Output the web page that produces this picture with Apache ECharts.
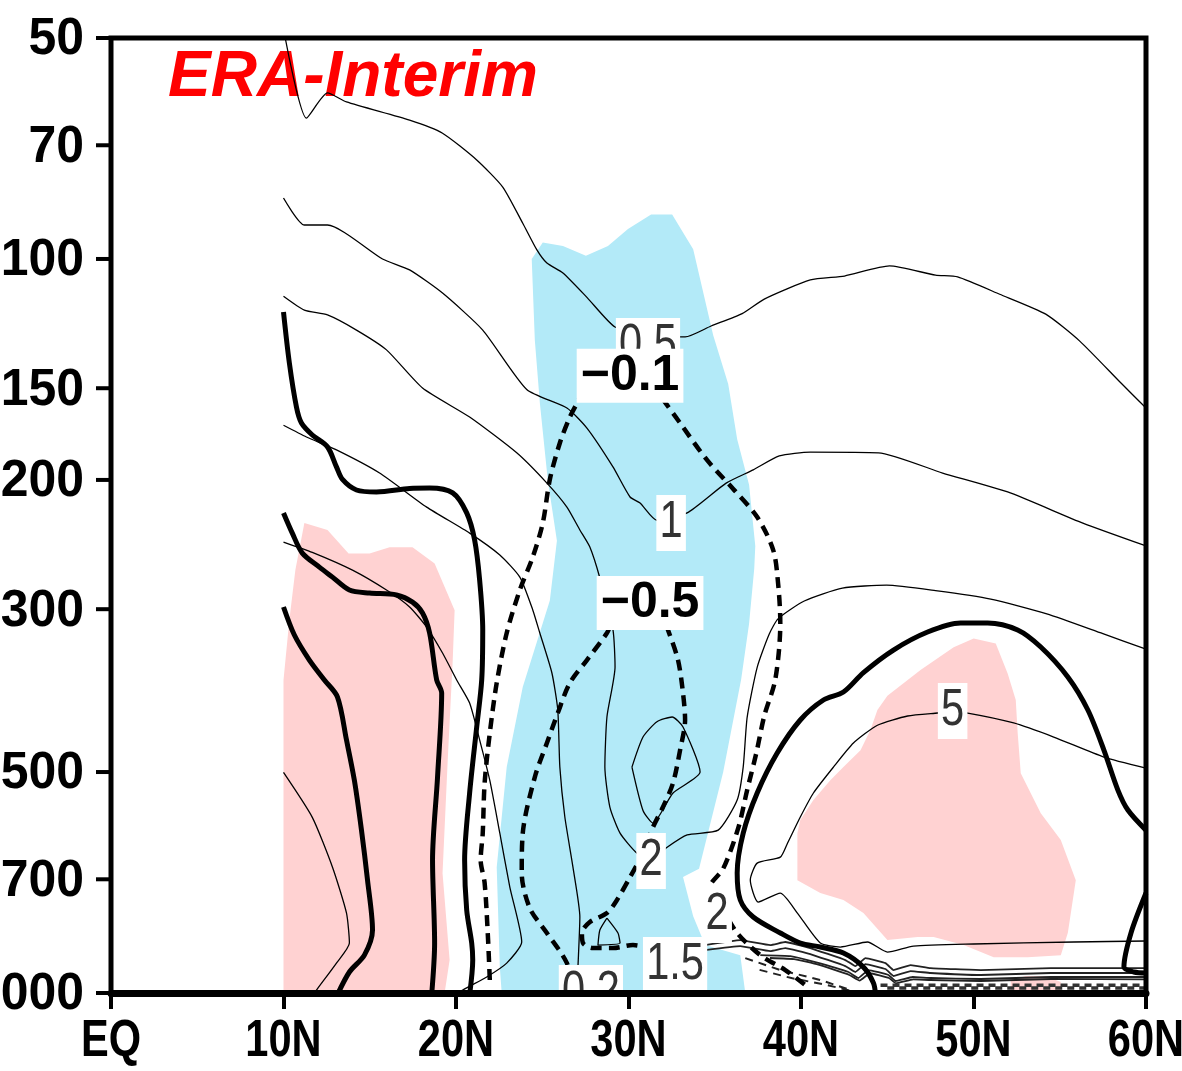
<!DOCTYPE html>
<html><head><meta charset="utf-8">
<script src="https://cdn.jsdelivr.net/npm/echarts/dist/echarts.min.js"></script>
<style>html,body{margin:0;padding:0;background:#fff}#c{width:1182px;height:1071px}</style>
</head><body><div id="c"></div>
<script>
// ---------------- data (latitude °N, pressure hPa) ----------------
const xTicks = [0, 10, 20, 30, 40, 50, 60];
const xTickLabels = ['EQ', '10N', '20N', '30N', '40N', '50N', '60N'];
const yTicks = [50, 70, 100, 150, 200, 300, 500, 700, 1000];
const yTickLabels = ['50', '70', '100', '150', '200', '300', '500', '700', '1000'];
const titleText = 'ERA-Interim';

// shaded regions
const pinkLeft = [[10,1000],[10,375],[10.34,310],[10.69,265],[11.21,229],[12.55,234],[13.77,252],[14.99,252],[16.15,247],[17.48,247],[18.76,260],[19.92,301],[19.81,352],[19.52,482],[19.22,687],[19.63,902],[19.34,1000]];
const pinkRight = [[39.79,606],[39.79,702],[41.12,731],[42.46,747],[43.62,778],[45.01,847],[46.76,839],[47.69,839],[49.43,860],[51.17,894],[53.14,894],[55.06,888],[55.47,828],[55.93,702],[55.06,619],[53.9,569],[52.74,502],[52.56,442],[52.45,399],[51.98,367],[51.29,334],[50.01,329],[48.85,338],[46.93,363],[45.01,393.5],[44.43,411.6],[44.03,438],[43.45,467],[42.46,492],[41.7,513],[40.72,546],[39.96,581]];
const pinkBottom = [[52.16,960],[53.03,948],[54.19,948],[55.06,966],[55.06,1000],[52.16,1000]];
const blueZone = [[22.65,1000],[22.54,922],[22.36,674],[22.94,492],[23.87,383],[25.44,292],[25.85,242],[25.32,200],[24.86,157],[24.57,129],[24.39,100],[25.03,95],[26.2,96],[27.53,99],[28.81,96],[29.97,91],[31.31,87],[32.53,87],[33.75,97],[34.91,127],[35.78,148],[36.3,176],[36.99,203],[37.35,246],[37.29,264],[36.99,314],[36.53,374],[35.49,500],[34.09,677],[33.16,695],[33.75,786],[34.44,860],[36.48,888],[36.77,1000]];

// thin solid contours
const thinTop = [[10.1,50],[11.33,64.3],[12.55,59.4],[13.65,61.1],[17.31,64.7],[19.22,67.4],[21.2,73.3],[22.71,79.8],[23.87,89.4],[24.69,97.2],[25.27,101.3],[26.2,104.5],[27.59,112.8],[29.22,123.8],[31.25,126.9],[33.28,127.7],[34.79,123.4],[36.59,118.7],[37.87,113.4],[40.54,106.8],[42.52,105.5],[45.13,102.2],[47.8,105.2],[49.08,105.8],[51.52,111.7],[54.19,118.9],[56.16,129.4],[58.55,147.6],[60,159.6]];
const thin1 = [[10,82.6],[11.21,89.9],[12.55,89.9],[15.74,100],[17.31,103.5],[19.22,111.3],[21.55,125],[24.1,150.6],[26.43,159.6],[27.59,170],[29.1,192],[30.09,211],[30.67,215],[31.65,227],[33.4,221.8],[35.66,202],[37.23,193.8],[38.74,185.5],[40.54,183.3],[44.49,183.7],[48.21,195.7],[51.98,207.7],[56.34,229],[60,246]];
const thin2 = [[10,112.4],[11.21,117.4],[12.55,119.2],[14.23,125],[15.97,133],[18.06,149.9],[20.79,164.2],[23.52,183.7],[25.27,202],[26.43,217.8],[27.18,234],[27.76,246.9],[28.34,272],[29.1,320.2],[29.22,359.6],[28.75,420.7],[28.63,492.3],[28.92,558],[29.51,605.7],[30.49,645],[31.31,659],[32.24,633],[33.4,609],[35.2,600],[36.3,546],[36.65,492],[36.88,421],[37.46,360],[38.16,324.3],[38.68,309],[40.19,292.4],[42.4,280.8],[44.96,278.2],[47.8,283],[51.0,290.6],[54.25,304.5],[57.5,324],[60,340]];
const thinA = [[10,168.5],[11.33,174.8],[13.07,182],[15.57,195.7],[18.3,217.8],[20.79,236.3],[22.54,253.1],[23.7,271.3],[24.45,300.7],[24.86,323.3],[25.56,366.5],[25.9,411.6],[26.02,492.3],[26.31,575.8],[26.78,673.8],[27.18,788],[27.07,922],[27.01,1000]];
const thinB = [[10,243],[11.67,251],[14.0,265.4],[15.97,282.5],[17.31,297.9],[18.3,317.3],[19.22,344.2],[20.04,374.6],[20.79,402.7],[21.37,452],[21.96,513.4],[22.54,605.7],[23.12,717.3],[23.81,852.2],[22.94,910.5],[21.78,951],[20.39,990.9],[19.92,1010]];
const thinC = [[10,500.7],[11.67,576.5],[12.84,674],[13.65,778],[13.82,855],[13.07,910.5],[11.91,991],[11.73,1005]];
const thin5 = [[60,493.8],[57.56,477],[54.65,448],[52.33,428.7],[49.66,415.5],[48.67,414],[47.92,415.5],[46.18,419.4],[44.43,431.7],[43.04,456.5],[41.88,492.3],[40.72,534],[39.96,575.8],[39.21,625.6],[38.8,653],[37.46,665.4],[37.06,701.7],[37.52,751.8],[38.8,730.9],[39.79,778.2],[41.12,854.9],[42.28,865.7],[43.85,852.2],[45.01,879.5],[46.52,863],[50.01,857.5],[55.82,852.2],[60,849.5]];
const loopMid = [[30.2,492.3],[30.84,448],[31.65,427],[32.53,420.7],[33.16,434.1],[34.15,500],[32.58,534],[31.42,586.8],[30.84,564],[30.2,492.3]];
const loopSmall = [[28.75,790.5],[29.39,828.4],[29.51,854.9],[28.23,860.3],[28.34,820.7],[28.75,790.5]];
const sfc1 = [[34.44,860.3],[36.48,846.9],[38.22,860.3],[39.09,852.2],[40.54,868.5],[42.57,901.9],[43.15,919.1],[43.74,896.3],[44.9,910.5],[45.36,930.5],[46.35,916.2],[47.51,925],[50.42,930.5],[54.48,925],[60,925]];
const sfc2 = [[34.44,874],[36.48,863],[38.22,876.7],[39.09,868.5],[40.54,885],[42.57,919.1],[43.15,936.3],[43.74,913.3],[44.9,927.6],[45.36,948.1],[46.35,933.5],[47.51,939.2],[50.42,945.1],[54.48,939.2],[60,939.2]];
const sfc3 = [[37.64,887.9],[39.38,890.7],[40.83,907.6],[42.75,936.3],[43.33,954],[43.91,930.5],[45.07,945.1],[45.48,963],[46.47,951],[47.51,954],[50.42,957],[54.48,951],[60,951]];
const sfc4 = [[38.2,896],[39.6,899],[41.0,915],[42.8,945],[43.4,962],[44.0,940],[45.1,954],[45.5,970],[46.5,958],[47.5,960],[50.4,963],[54.5,957],[60,958]];

// thick solid (zero) contours
const thickA = [[10,118.1],[10.34,138.6],[10.75,159.1],[11.04,167.3],[11.67,173.7],[12.55,180.3],[13.07,192],[13.42,199.7],[14.23,206.4],[15.39,207.7],[17.31,205.4],[18.47,205.1],[19.81,208.3],[20.62,221.8],[21.08,241.5],[21.37,273.8],[21.55,320.2],[21.49,374.6],[21.2,434.1],[20.79,534],[20.5,659.2],[20.62,771],[20.91,854.9],[20.97,901.9],[20.79,1005]];
const thickB = [[10,221.8],[10.51,236.3],[11.09,251.6],[12.08,262.9],[12.84,271.3],[13.82,282.5],[14.99,285.2],[16.55,286.9],[17.48,293.4],[18.06,303.6],[18.47,323.3],[18.88,374.6],[19.17,390.3],[18.93,507.9],[18.64,659.2],[18.76,854.9],[18.59,1005]];
const thickC = [[10,297.9],[10.63,325.3],[11.5,351.9],[12.37,374.6],[13.13,395.2],[13.65,452],[14.11,513.4],[14.52,600],[14.87,701.7],[15.16,820.7],[14.69,887.9],[13.82,936.3],[13.13,1005]];
const thickD = [[44.32,1005],[44.2,969],[43.62,922],[42.46,882.3],[41.12,865.7],[39.96,854.9],[38.8,828.4],[37.23,788],[36.48,747],[36.3,686.5],[36.65,605.7],[37.46,534],[38.62,471.1],[39.96,424.7],[41.3,398.9],[42.46,389],[43.62,366],[45.36,341],[47.34,322.3],[49.25,313.3],[50.82,313.3],[52.56,320.2],[53.9,337.8],[55.47,371.1],[56.63,411.6],[57.56,466.7],[58.37,529.1],[58.95,563.3],[60,600]];
const thickE = [[60,730.9],[59.13,828.4],[58.72,922],[59.3,936.3],[60,939.2]];

// dashed (negative) contours
const dashM01 = [[21.96,960],[21.84,828.4],[21.66,708.3],[21.43,659],[21.55,605.7],[21.66,517.6],[21.96,442.4],[22.36,378.1],[22.94,323.3],[23.7,282.5],[24.45,254.7],[25.03,229],[25.44,199.7],[26.02,178.1],[26.6,164.2],[27.18,154.7],[27.76,146],[31.25,146],[31.95,154.7],[32.99,167.3],[34.56,188],[36.07,205.7],[37.46,224.7],[38.39,249.2],[38.68,278],[38.8,313.3],[38.51,374],[37.87,419.4],[37.41,471.1],[36.88,529.1],[36.36,596.2],[35.49,677],[34.73,717.3],[35.49,771],[36.3,828.4],[37.64,887.9],[39.09,930.5],[40.25,975.6]];
const dashM05 = [[26.6,969],[26.43,910.5],[25.27,828.4],[24.28,766.4],[23.81,686.5],[23.87,605.7],[24.57,508],[25.27,456.5],[25.9,415.5],[26.6,378.1],[27.59,351.9],[28.75,323.3],[29.51,300.7],[31.83,300.7],[32.29,320.2],[32.87,351.9],[33.16,390.3],[33.28,424.7],[32.99,466.7],[32.58,517.6],[32.0,558],[31.42,594.3],[30.84,645],[30.09,695.2],[29.33,747],[28.75,778.2],[27.76,800.6],[27.3,828.4],[27.36,854.9],[27.94,868.5],[29.1,868.5],[30.26,860.3],[31.42,874],[32.41,901.9],[32.99,930.5],[32.99,990.9]];
const dashSfc1 = [[44.61,975.6],[60,975.6]];
const dashSfc2 = [[45.0,984.7],[60,984.7]];
const dashSfc3 = [[36.77,896.3],[38.8,930.5],[41.12,960],[42.87,990.9]];
const dashSfc4 = [[37.6,930],[39.5,955],[41.5,975],[43.0,995]];

// contour labels
const labelsThin = [
  {lat:31.13, p:131.4, text:'0.5'},
  {lat:32.47, p:229, text:'1'},
  {lat:31.31, p:661, text:'2'},
  {lat:48.79, p:412.9, text:'5'},
  {lat:35.14, p:783, text:'2'},
  {lat:32.7, p:916, text:'1.5'},
  {lat:27.82, p:1000, text:'0.2'}
];
const labelsBold = [
  {lat:30.09, p:144.3, text:'\u22120.1'},
  {lat:31.25, p:294.3, text:'\u22120.5'}
];

// ---------------- chart ----------------
const FONT = '"Liberation Sans", Arial, sans-serif';
const PINK = '#FFD2D2';
const BLUE = '#B3EAF8';

function area(points, color) {
  return {
    type: 'custom', coordinateSystem: 'cartesian2d', clip: true, silent: true, z: 1,
    data: points,
    renderItem: function (params, api) {
      if (params.dataIndex !== 0) return null;
      return { type: 'polygon', shape: { points: points.map(function (p) { return api.coord(p); }) }, style: { fill: color } };
    }
  };
}
function line(points, width, type, smooth, z, color) {
  return {
    type: 'line', data: points, showSymbol: false, symbol: 'none', silent: true,
    smooth: smooth, clip: true, z: z,
    lineStyle: { color: color || '#000', width: width, type: type, cap: 'butt', join: 'round' }
  };
}
function labelSeries(list, bold, z) {
  return {
    type: 'custom', coordinateSystem: 'cartesian2d', clip: true, silent: true, z: z,
    data: list.map(function (l) { return [l.lat, l.p]; }),
    renderItem: function (params, api) {
      const l = list[params.dataIndex];
      const c = api.coord([api.value(0), api.value(1)]);
      return {
        type: 'text', x: c[0], y: c[1], scaleX: bold ? 1 : 0.8,
        style: {
          text: l.text, align: 'center', verticalAlign: 'middle',
          fontFamily: FONT, fontSize: bold ? 50 : 52, fontWeight: bold ? 'bold' : 'normal',
          fill: bold ? '#000' : '#333', backgroundColor: '#fff',
          padding: [3, 4, 1, 4]
        }
      };
    }
  };
}

const series = [];
series.push(area(pinkLeft, PINK), area(pinkRight, PINK), area(pinkBottom, PINK), area(blueZone, BLUE));
[thinTop, thin1, thin2, thinA, thinB, thinC, thin5, loopMid, loopSmall].forEach(function (pts) {
  series.push(line(pts, 1.3, 'solid', 0.2, 3));
});
[sfc1, sfc2, sfc3, sfc4].forEach(function (pts) {
  series.push(line(pts, 1.8, 'solid', 0.1, 3, '#222'));
});
[dashSfc1, dashSfc2].forEach(function (pts) {
  series.push(line(pts, 3.5, [7, 5], 0, 3, '#333'));
});
[dashSfc3, dashSfc4].forEach(function (pts) {
  series.push(line(pts, 2, [8, 6], 0, 3, '#222'));
});
[thickA, thickB, thickC, thickD, thickE].forEach(function (pts) {
  series.push(line(pts, 5, 'solid', 0.3, 4));
});
[dashM01, dashM05].forEach(function (pts) {
  series.push(line(pts, 4.5, [11, 7], 0.3, 4));
});
series.push(labelSeries(labelsThin, false, 10));
series.push(labelSeries(labelsBold, true, 11));

// y-axis ticks and labels (pressure, log scale)
series.push({
  type: 'custom', coordinateSystem: 'cartesian2d', clip: false, silent: true, z: 30,
  data: yTicks.map(function (v) { return [0, v]; }),
  renderItem: function (params, api) {
    const c = api.coord([api.value(0), api.value(1)]);
    return {
      type: 'group', children: [
        { type: 'line', shape: { x1: c[0] - 15, y1: c[1], x2: c[0], y2: c[1] }, style: { stroke: '#000', lineWidth: 4 } },
        { type: 'text', x: c[0] - 27, y: c[1] + 2, scaleX: 0.96,
          style: { text: yTickLabels[params.dataIndex], align: 'right', verticalAlign: 'middle',
            fontFamily: FONT, fontSize: 52, fontWeight: 'bold', fill: '#000' } }
      ]
    };
  }
});
// x-axis labels
series.push({
  type: 'custom', coordinateSystem: 'cartesian2d', clip: false, silent: true, z: 30,
  data: xTicks.map(function (v) { return [v, 1000]; }),
  renderItem: function (params, api) {
    const c = api.coord([api.value(0), api.value(1)]);
    return { type: 'text', x: c[0], y: c[1] + 49, scaleX: 0.8,
      style: { text: xTickLabels[params.dataIndex], align: 'center', verticalAlign: 'middle',
        fontFamily: FONT, fontSize: 52, fontWeight: 'bold', fill: '#000' } };
  }
});

const chart = echarts.init(document.getElementById('c'));
chart.setOption({
  animation: false,
  backgroundColor: '#fff',
  graphic: [{
    type: 'text', x: 168, y: 78, z: 1,
    style: { text: titleText, fill: '#ff0000', fontFamily: FONT, fontSize: 64, fontStyle: 'italic', fontWeight: 'bold',
      align: 'left', verticalAlign: 'middle' }
  }],
  grid: { left: 111, right: 36, top: 38, bottom: 78, show: true, borderColor: '#000', borderWidth: 5,
    backgroundColor: 'transparent', containLabel: false, outerBoundsMode: 'none', z: 20 },
  xAxis: {
    type: 'value', min: 0, max: 60, interval: 10, z: 20,
    axisLine: { show: true, lineStyle: { color: '#000', width: 7 } },
    axisTick: { show: true, length: 16, lineStyle: { color: '#000', width: 4 } },
    axisLabel: { show: false }, splitLine: { show: false }
  },
  yAxis: {
    type: 'log', logBase: 10, min: 50, max: 1000, inverse: true, z: 20,
    axisLine: { show: false }, axisTick: { show: false }, axisLabel: { show: false },
    splitLine: { show: false }, minorTick: { show: false }, minorSplitLine: { show: false }
  },
  series: series
});
</script>
</body></html>
